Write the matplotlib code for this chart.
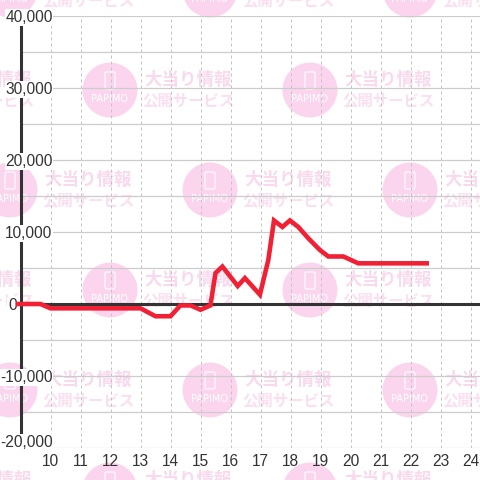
import matplotlib
matplotlib.use('Agg')
import matplotlib.pyplot as plt
from matplotlib.patches import Circle, FancyBboxPatch

hours = [8.92, 9.67, 10.0, 13.0, 13.5, 14.0, 14.33, 14.67, 15.0, 15.33, 15.5, 15.73, 16.24, 16.48,
         16.98, 17.26, 17.45, 17.73, 17.98, 18.26, 18.6, 18.98, 19.26, 19.76, 20.26, 22.54]
values = [0, 0, -600, -600, -1700, -1700, -200, -200, -800, -200, 4300, 5200, 2500, 3600,
          1300, 6100, 11600, 10700, 11600, 10700, 9100, 7500, 6600, 6600, 5650, 5650]
y_major = [40000, 30000, 20000, 10000, -10000, -20000]
x_ticks = list(range(10, 25))
wm_line1 = '大当り情報'
wm_line2 = '公開サービス'
wm_logo = 'PAPIMO'

fig = plt.figure(figsize=(4.8, 4.8), dpi=100)
jp = ['Noto Sans CJK JP', 'DejaVu Sans']
plt.rcParams['font.family'] = ['Liberation Sans', 'DejaVu Sans']

# watermark tiles, in pixels
bg = fig.add_axes([0, 0, 1, 1], zorder=0)
bg.set_xlim(0, 480)
bg.set_ylim(480, 0)
bg.axis('off')
for row in range(-1, 5):
    cy = row * 100 + 90
    offset = 110 if row % 2 == 0 else 10
    for col in range(-1, 3):
        cx = offset + col * 200
        bg.add_patch(Circle((cx, cy), 27.5, color='#fbd5ee', lw=0))
        bg.add_patch(FancyBboxPatch((cx - 5, cy - 18), 10, 17, boxstyle='round,pad=0,rounding_size=1.5',
                                    fc='none', ec='white', lw=0.8))
        bg.text(cx, cy + 9, wm_logo, color='white', fontsize=7, ha='center', va='center', family='DejaVu Sans')
        bg.text(cx + 78, cy - 10, wm_line1, color='#f9d9ee', fontsize=12.6, fontweight='bold',
                ha='center', va='center', family=jp, clip_on=True)
        bg.text(cx + 78, cy + 10, wm_line2, color='#f9dff0', fontsize=11.1, fontweight='bold',
                ha='center', va='center', family=jp, clip_on=True)

# axes box: x from 20.5 to 480 px, y from 16 to 448 px
ax = fig.add_axes([20.5 / 480, 32 / 480, 459.5 / 480, 432 / 480], zorder=1)
ax.patch.set_visible(False)
ax.set_xlim(9, 9 + 459.5 / 30)
ax.set_ylim(-20000, 40000)

ax.set_yticks(range(-20000, 40001, 5000))
ax.set_xticks(x_ticks)
ax.set_yticklabels([])
ax.set_xticklabels([])
ax.tick_params(length=0)
ax.grid(axis='y', color='#cccccc', linewidth=0.9)
ax.grid(axis='x', color='#c4c4c4', linewidth=0.72, linestyle=(0, (3, 3)))
ax.set_axisbelow(True)
for s in ['top', 'right', 'bottom']:
    ax.spines[s].set_visible(False)
ax.spines['left'].set_linewidth(2.2)
ax.spines['left'].set_color('#333333')
ax.spines['left'].set_bounds(-20000, 38900)
ax.axhline(0, color='#333333', linewidth=2.2, zorder=2)

ax.plot(hours, values, color='#f02035', linewidth=3.3, solid_joinstyle='miter', clip_on=False, zorder=4)

lab = dict(fontsize=11.2, color='#333333', va='center_baseline', zorder=3, clip_on=False,
           bbox=dict(fc='white', ec='none', pad=0.5))
for v in y_major:
    # bottom label sits a little above its gridline
    y = v if v != -20000 else -19000
    ax.text(10.07, y, f'{v:,}', ha='right', **lab)
ax.text(8.87, 0, '0', ha='right', **lab)
for h in x_ticks:
    ax.annotate(str(h), (h, -20000), xytext=(0, -12.5), textcoords='offset pixels', ha='center',
                va='center_baseline', fontsize=11.2, color='#333333', annotation_clip=False)

fig.savefig('out.png', dpi=100, facecolor='white')
